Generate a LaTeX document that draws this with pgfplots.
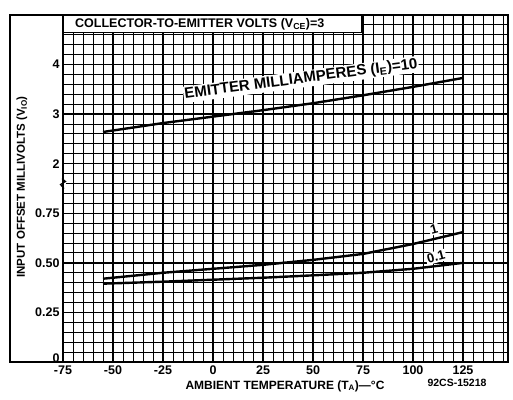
\documentclass[border=0pt]{standalone}
\usepackage{pgfplots}
\usepackage{pgfplotstable}
\pgfplotsset{compat=1.18}
\usepackage{fontspec}
\setmainfont{Liberation Sans}
\begin{document}
\pgfplotstableread{
T v
-55 2.64
-25 2.82
0 2.95
25 3.08
50 3.22
75 3.38
100 3.55
125 3.73
}\tableten
\pgfplotstableread{
T v
-55 0.420
-25 0.450
0 0.470
25 0.490
50 0.515
75 0.545
100 0.595
125 0.655
}\tableone
\pgfplotstableread{
T v
-55 0.395
-25 0.405
0 0.415
25 0.425
50 0.437
75 0.450
100 0.470
125 0.500
}\tablepointone
\begin{tikzpicture}
\begin{axis}[name=ax, scale only axis, width=445pt, height=347pt,
  xmin=-75, xmax=147.5, ymin=0, ymax=7,
  xtick={-75,-50,...,125},
  ytick={0,1,2,3,4,5,6},
  yticklabels={\raisebox{7pt}{0},0.25,0.50,0.75,2,3,4},
  minor xtick={-75,-70,...,145},
  minor ytick={0.2,0.4,...,6.9},
  grid=both,
  major grid style={black,line width=1.3pt},
  minor grid style={black,line width=1.0pt},
  axis line style={black,line width=1.6pt},
  major tick length=0pt, minor tick length=0pt,
  tick label style={font=\bfseries\fontsize{12.5}{12.5}\selectfont},
  /pgf/number format/assume math mode=true,
  clip=false]
\addplot[black,line width=2.4pt] table[x=T,y expr=\thisrow{v}+2] {\tableten};
\addplot[black,line width=2.4pt] table[x=T,y expr=\thisrow{v}*4] {\tableone};
\addplot[black,line width=2.4pt] table[x=T,y expr=\thisrow{v}*4] {\tablepointone};
% header box
\draw[black,line width=1.3pt,fill=white] (axis cs:-75,6.64) rectangle (axis cs:74.5,7);
\node[anchor=west,font=\bfseries\fontsize{12.5}{12.5}\selectfont,inner sep=0pt] at (axis cs:-69,6.82) {COLLECTOR-TO-EMITTER VOLTS (V\textsubscript{CE})=3};
% curve labels
\node[fill=white,rotate=7.5,inner sep=1.2pt,font=\bfseries\fontsize{15}{15}\selectfont] at (axis cs:44,5.70) {EMITTER MILLIAMPERES (I\textsubscript{E})=10};
\node[fill=white,rotate=15,inner sep=1.2pt,font=\bfseries\fontsize{13}{13}\selectfont] at (axis cs:110.5,2.68) {1};
\node[fill=white,rotate=15,inner sep=1.2pt,font=\bfseries\fontsize{13}{13}\selectfont] at (axis cs:111.5,2.12) {0.1};
% axis break
\fill[white] ([shift={(-3pt,-5pt)}]axis cs:-75,3.6) rectangle ([shift={(3pt,5pt)}]axis cs:-75,3.6);
\draw[black,line width=1.2pt] ([shift={(-1pt,5pt)}]axis cs:-75,3.6) -- ([shift={(2.5pt,2pt)}]axis cs:-75,3.6) -- ([shift={(-2.5pt,-1pt)}]axis cs:-75,3.6) -- ([shift={(1pt,-5pt)}]axis cs:-75,3.6);
\end{axis}
% outer frame on the left
\draw[black,line width=1.4pt] ([xshift=-53pt]ax.south west) rectangle (ax.north west);
\node[rotate=90,font=\bfseries\fontsize{11.5}{11.5}\selectfont] at ([shift={(-41pt,175pt)}]ax.south west) {INPUT OFFSET MILLIVOLTS (V\textsubscript{IO})};
\node[font=\bfseries\fontsize{12}{12}\selectfont] at ([shift={(222pt,-24pt)}]ax.south west) {AMBIENT TEMPERATURE (T\textsubscript{A})—°C};
\node[font=\bfseries\fontsize{10.5}{10.5}\selectfont] at ([shift={(394pt,-21pt)}]ax.south west) {92CS-15218};
\path ([shift={(-63pt,-38pt)}]ax.south west) rectangle ([shift={(5pt,15pt)}]ax.north east);
\end{tikzpicture}
\end{document}
